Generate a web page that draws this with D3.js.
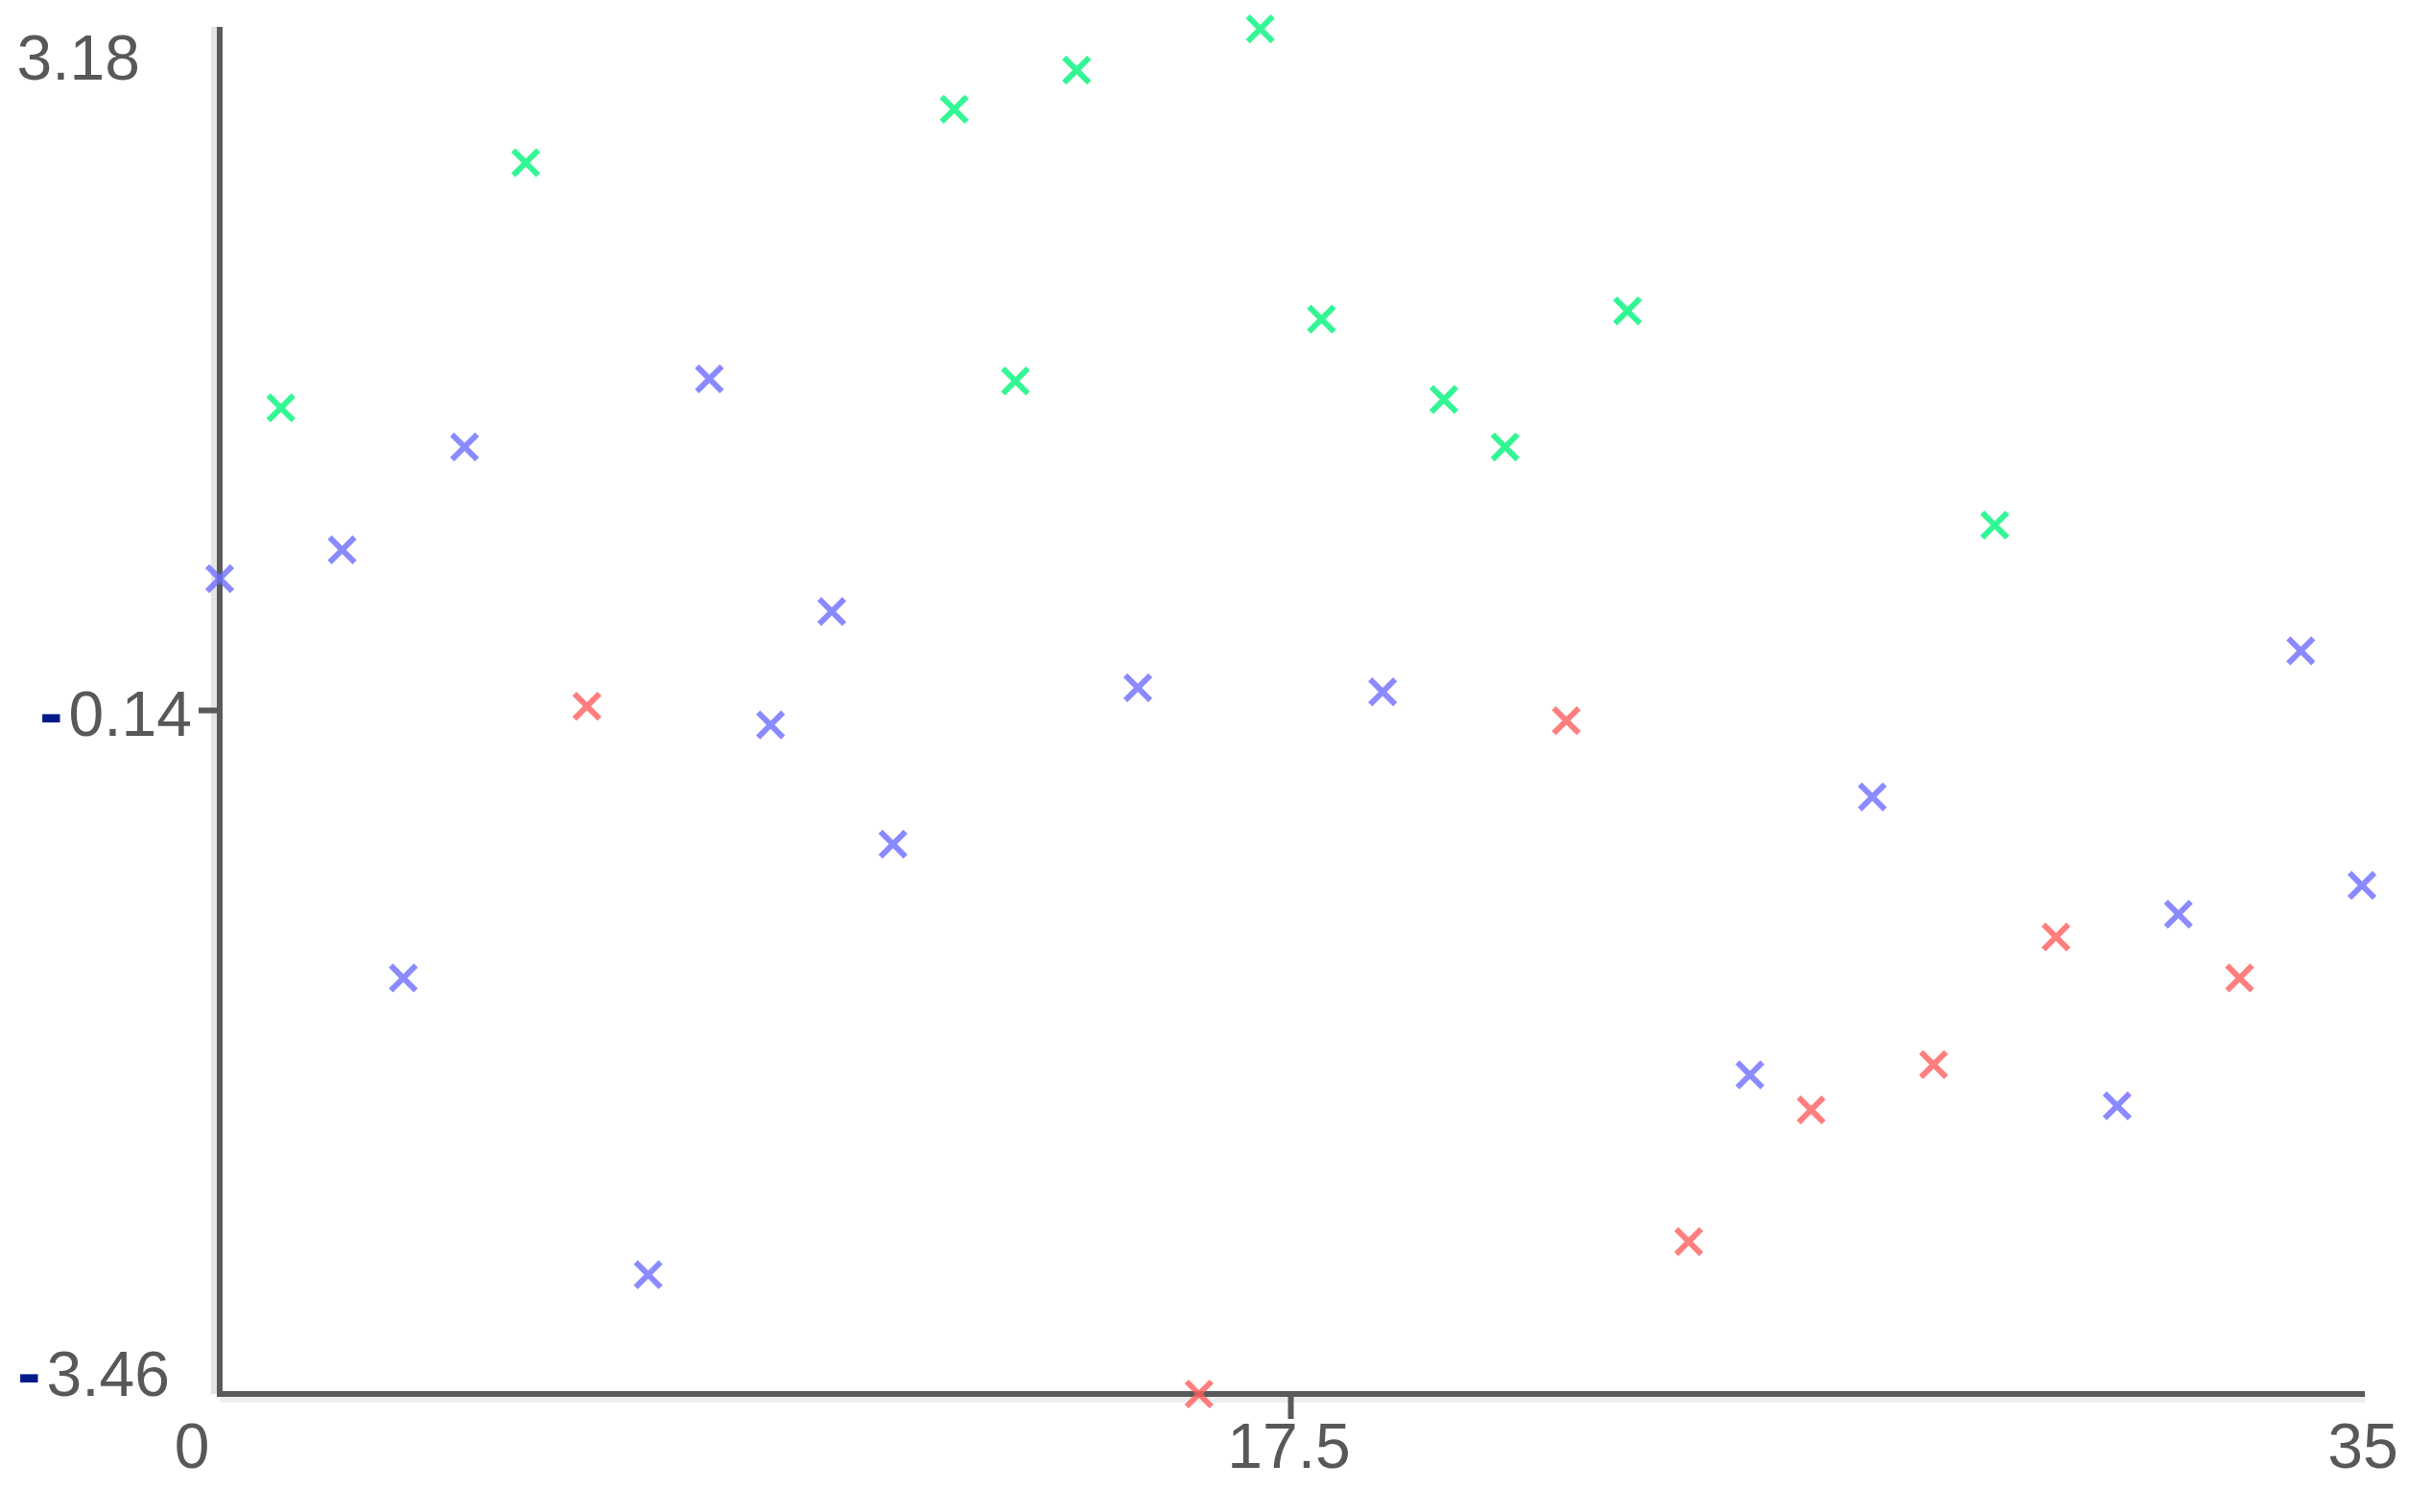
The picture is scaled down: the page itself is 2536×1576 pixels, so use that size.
<!DOCTYPE html>
<html>
<head>
<meta charset="utf-8">
<script src="https://cdn.jsdelivr.net/npm/d3@7"></script>
<style>
  html, body { margin: 0; padding: 0; background: #ffffff; }
  svg { display: block; }
</style>
</head>
<body>
<svg id="chart" width="2536" height="1576"></svg>
<script>
// ---- data ----
const xTickValues = [0, 17.5, 35];
const xTickLabels = ["0", "17.5", "35"];
const yTickValues = [-3.46, -0.14, 3.18];
const yTickLabels = ["-3.46", "-0.14", "3.18"];

const greenX = [1, 5, 12, 13, 14, 17, 18, 20, 21, 23, 29];
const greenY = [1.33, 2.52, 2.78, 1.46, 2.97, 3.17, 1.76, 1.37, 1.14, 1.80, 0.76];

const blueX = [0, 2, 3, 4, 7, 8, 9, 10, 11, 15, 19, 25, 27, 31, 32, 34, 35];
const blueY = [0.50, 0.64, -1.44, 1.14, -2.88, 1.47, -0.21, 0.34, -0.79, -0.03, -0.05, -1.91, -0.56, -2.06, -1.13, 0.15, -0.99];

const redX = [6, 16, 22, 24, 26, 28, 30, 33];
const redY = [-0.12, -3.46, -0.19, -2.72, -2.08, -1.86, -1.24, -1.44];

// ---- layout ----
const svg = d3.select("#chart");
const pLeft = 229, pRight = 2462, pTop = 28, pBottom = 1453;
const x = d3.scaleLinear().domain([0, 35]).range([pLeft, pRight]);
const y = d3.scaleLinear().domain([-3.46, 3.18]).range([pBottom, pTop]);

const axisColor = "#5a5a5a";
const shadowColor = "#e4e4e4";
const textColor = "#585858";
const minusColor = "#001a8a";
const fontSize = 66;
const font = "'Liberation Sans', Arial, sans-serif";

// axis shadows
svg.append("line").attr("x1", pLeft - 6).attr("x2", pLeft - 6).attr("y1", pTop).attr("y2", pBottom)
  .attr("stroke", shadowColor).attr("stroke-width", 6);
svg.append("line").attr("x1", pLeft).attr("x2", pRight + 3).attr("y1", pBottom + 6).attr("y2", pBottom + 6)
  .attr("stroke", "#eeeeee").attr("stroke-width", 6);

// y axis line
svg.append("line").attr("x1", pLeft).attr("x2", pLeft).attr("y1", pTop).attr("y2", pBottom + 3)
  .attr("stroke", axisColor).attr("stroke-width", 6);
// x axis line
svg.append("line").attr("x1", pLeft - 3).attr("x2", pRight + 3).attr("y1", pBottom).attr("y2", pBottom)
  .attr("stroke", axisColor).attr("stroke-width", 6);

// inner ticks (only middle ticks visible)
svg.append("line").attr("x1", pLeft - 22).attr("x2", pLeft).attr("y1", y(yTickValues[1])).attr("y2", y(yTickValues[1]))
  .attr("stroke", axisColor).attr("stroke-width", 6);
svg.append("line").attr("x1", x(xTickValues[1])).attr("x2", x(xTickValues[1])).attr("y1", pBottom).attr("y2", pBottom + 26)
  .attr("stroke", axisColor).attr("stroke-width", 6);

// y tick labels: per-label placement (end-x, vertical shift)
const yLabelEnd = [177, 200, 146];
const yLabelShift = [-21, 3, 32];
yTickValues.forEach((v, i) => {
  const t = svg.append("text")
    .attr("x", yLabelEnd[i])
    .attr("y", y(v) + yLabelShift[i])
    .attr("dy", "0.35em")
    .attr("text-anchor", "end")
    .attr("font-family", font)
    .attr("font-size", fontSize)
    .attr("fill", textColor);
  const lab = yTickLabels[i];
  if (lab.startsWith("-")) {
    t.append("tspan").attr("fill", minusColor).attr("font-weight", "bold")
      .attr("font-size", fontSize * 1.1).text("-");
    t.append("tspan").attr("dx", 6).text(lab.slice(1));
  } else {
    t.text(lab);
  }
});

// x tick labels
const xLabelShift = [-29, -2, 1];
xTickValues.forEach((v, i) => {
  svg.append("text")
    .attr("x", x(v) + xLabelShift[i])
    .attr("y", 1507)
    .attr("dy", "0.35em")
    .attr("text-anchor", "middle")
    .attr("font-family", font)
    .attr("font-size", fontSize)
    .attr("fill", textColor)
    .text(xTickLabels[i]);
});

// markers
const series = [
  { xs: blueX, ys: blueY, color: "#6e6eff" },
  { xs: redX, ys: redY, color: "#ff5e5e" },
  { xs: greenX, ys: greenY, color: "#00f57a" }
];
const h = 13;
series.forEach(s => {
  const g = svg.append("g").attr("stroke", s.color).attr("stroke-width", 6).attr("opacity", 0.8);
  s.xs.forEach((xv, i) => {
    const cx = x(xv), cy = y(s.ys[i]);
    g.append("path")
      .attr("d", `M${cx - h},${cy - h}L${cx + h},${cy + h}M${cx - h},${cy + h}L${cx + h},${cy - h}`)
      .attr("fill", "none");
  });
});
</script>
</body>
</html>
